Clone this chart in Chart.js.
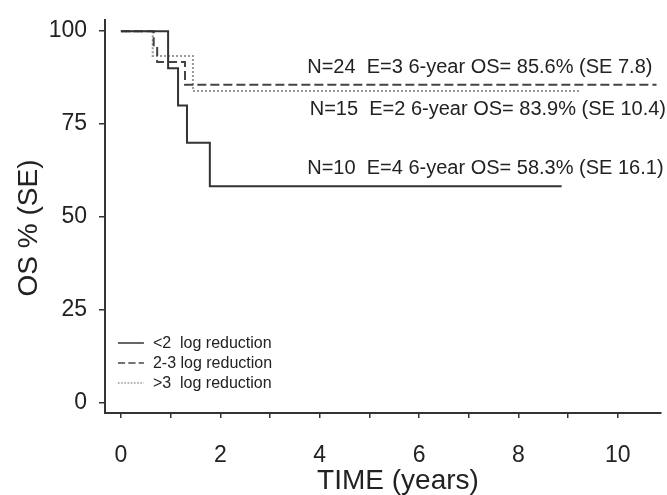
<!DOCTYPE html>
<html>
<head>
<meta charset="utf-8">
<script src="https://cdn.jsdelivr.net/npm/chart.js@4.4.1/dist/chart.umd.min.js"></script>
<style>
  html, body { margin: 0; padding: 0; background: #fff; }
  #km { display: block; }
</style>
</head>
<body>
<canvas id="km" width="667" height="495"></canvas>
<script>
// Kaplan-Meier steps (time in years, OS %)
const LOW_TIMES = [0, 0.95, 1.15, 1.33, 1.79, 8.87];       // <2 log reduction
const LOW_OS = [100, 90, 80, 70, 58.3, 58.3];
const MID_TIMES = [0, 0.66, 0.73, 1.29, 10.78];            // 2-3 log reduction
const MID_OS = [100, 95.8, 91.7, 85.6, 85.6];
const HIGH_TIMES = [0, 0.64, 1.45, 9.24];                  // >3 log reduction
const HIGH_OS = [100, 93.3, 83.9, 83.9];

const SERIES_NAMES = ['<2  log reduction', '2-3 log reduction', '>3  log reduction'];
const ANNOTATIONS = [
    'N=10  E=4 6-year OS= 58.3% (SE 16.1)',
    'N=24  E=3 6-year OS= 85.6% (SE 7.8)',
    'N=15  E=2 6-year OS= 83.9% (SE 10.4)'
];

const X_TICKS = [0, 1, 2, 3, 4, 5, 6, 7, 8, 9, 10];
const Y_TICKS = [0, 25, 50, 75, 100];
const X_TITLE = 'TIME (years)';
const Y_TITLE = 'OS % (SE)';

const FONT = '"Liberation Sans", Arial, sans-serif';
const INK = '#222';
const AXIS = '#333';

const STYLES = [
    { color: '#333', dash: [] },
    { color: '#444', dash: [9, 4] },
    { color: '#999', dash: [2, 2] }
];

function toPoints(times, values) {
    return times.map((t, i) => ({ x: t, y: values[i] }));
}

// Curve labels, legend and axis titles
const annotationPlugin = {
    id: 'kmText',
    afterDatasetsDraw(chart) {
        const { ctx, scales: { x, y } } = chart;
        ctx.save();
        ctx.fillStyle = INK;
        ctx.font = '20px ' + FONT;
        ctx.textBaseline = 'alphabetic';
        ctx.textAlign = 'left';
        ctx.fillText(ANNOTATIONS[0], x.getPixelForValue(3.75), y.getPixelForValue(58.3) - 12);
        ctx.fillText(ANNOTATIONS[1], x.getPixelForValue(3.75), y.getPixelForValue(85.6) - 12);
        ctx.fillText(ANNOTATIONS[2], x.getPixelForValue(3.8), y.getPixelForValue(83.9) + 24);

        // legend, lower left
        ctx.font = '16px ' + FONT;
        ctx.textBaseline = 'middle';
        const left = x.getPixelForValue(-0.06);
        SERIES_NAMES.forEach((name, i) => {
            const rowY = 343 + i * 20;
            ctx.strokeStyle = STYLES[i].color;
            ctx.lineWidth = 1.5;
            ctx.setLineDash(STYLES[i].dash.length ? STYLES[i].dash.map(d => d * 0.8) : []);
            ctx.beginPath();
            ctx.moveTo(left, rowY);
            ctx.lineTo(left + 26, rowY);
            ctx.stroke();
            ctx.fillText(name, left + 35, rowY + 1);
        });

        // axis titles (the originals sit a little off-centre)
        ctx.font = '28px ' + FONT;
        ctx.textAlign = 'center';
        ctx.fillText(X_TITLE, 398, 481);
        ctx.translate(29, 228);
        ctx.rotate(-Math.PI / 2);
        ctx.fillText(Y_TITLE, 0, 0);
        ctx.restore();
    }
};

const datasets = [
    toPoints(LOW_TIMES, LOW_OS),
    toPoints(MID_TIMES, MID_OS),
    toPoints(HIGH_TIMES, HIGH_OS)
].map((data, i) => ({
    label: SERIES_NAMES[i],
    data: data,
    borderColor: STYLES[i].color,
    borderDash: STYLES[i].dash,
    borderWidth: 2,
    stepped: 'before',
    pointRadius: 0,
    fill: false
}));

new Chart(document.getElementById('km'), {
    type: 'line',
    data: { datasets: datasets },
    options: {
        responsive: false,
        animation: false,
        layout: { padding: { top: 20, right: 6, left: 0, bottom: 0 } },
        plugins: {
            legend: { display: false },
            tooltip: { enabled: false }
        },
        scales: {
            x: {
                type: 'linear',
                min: -0.32,
                max: 10.87,
                afterBuildTicks: (scale) => { scale.ticks = X_TICKS.map(v => ({ value: v })); },
                afterFit: (scale) => { scale.height = 82; },
                grid: { drawOnChartArea: false, drawTicks: true, tickLength: 5, color: AXIS, lineWidth: 1.5 },
                border: { display: true, color: AXIS, width: 2 },
                ticks: {
                    autoSkip: false,
                    maxRotation: 0,
                    padding: 24,
                    color: INK,
                    font: { family: FONT, size: 23 },
                    callback: (v) => (v % 2 === 0 ? String(v) : '')
                }
            },
            y: {
                type: 'linear',
                min: -2.7,
                max: 103,
                afterBuildTicks: (scale) => { scale.ticks = Y_TICKS.map(v => ({ value: v })); },
                afterFit: (scale) => {
                    scale.width = 105;
                    scale.paddingTop = 0;
                    scale.paddingBottom = 0;
                },
                grid: { drawOnChartArea: false, drawTicks: true, tickLength: 6, color: AXIS, lineWidth: 1.5 },
                border: { display: true, color: AXIS, width: 2 },
                ticks: {
                    padding: 12,
                    color: INK,
                    font: { family: FONT, size: 23 }
                }
            }
        }
    },
    plugins: [annotationPlugin]
});
</script>
</body>
</html>
